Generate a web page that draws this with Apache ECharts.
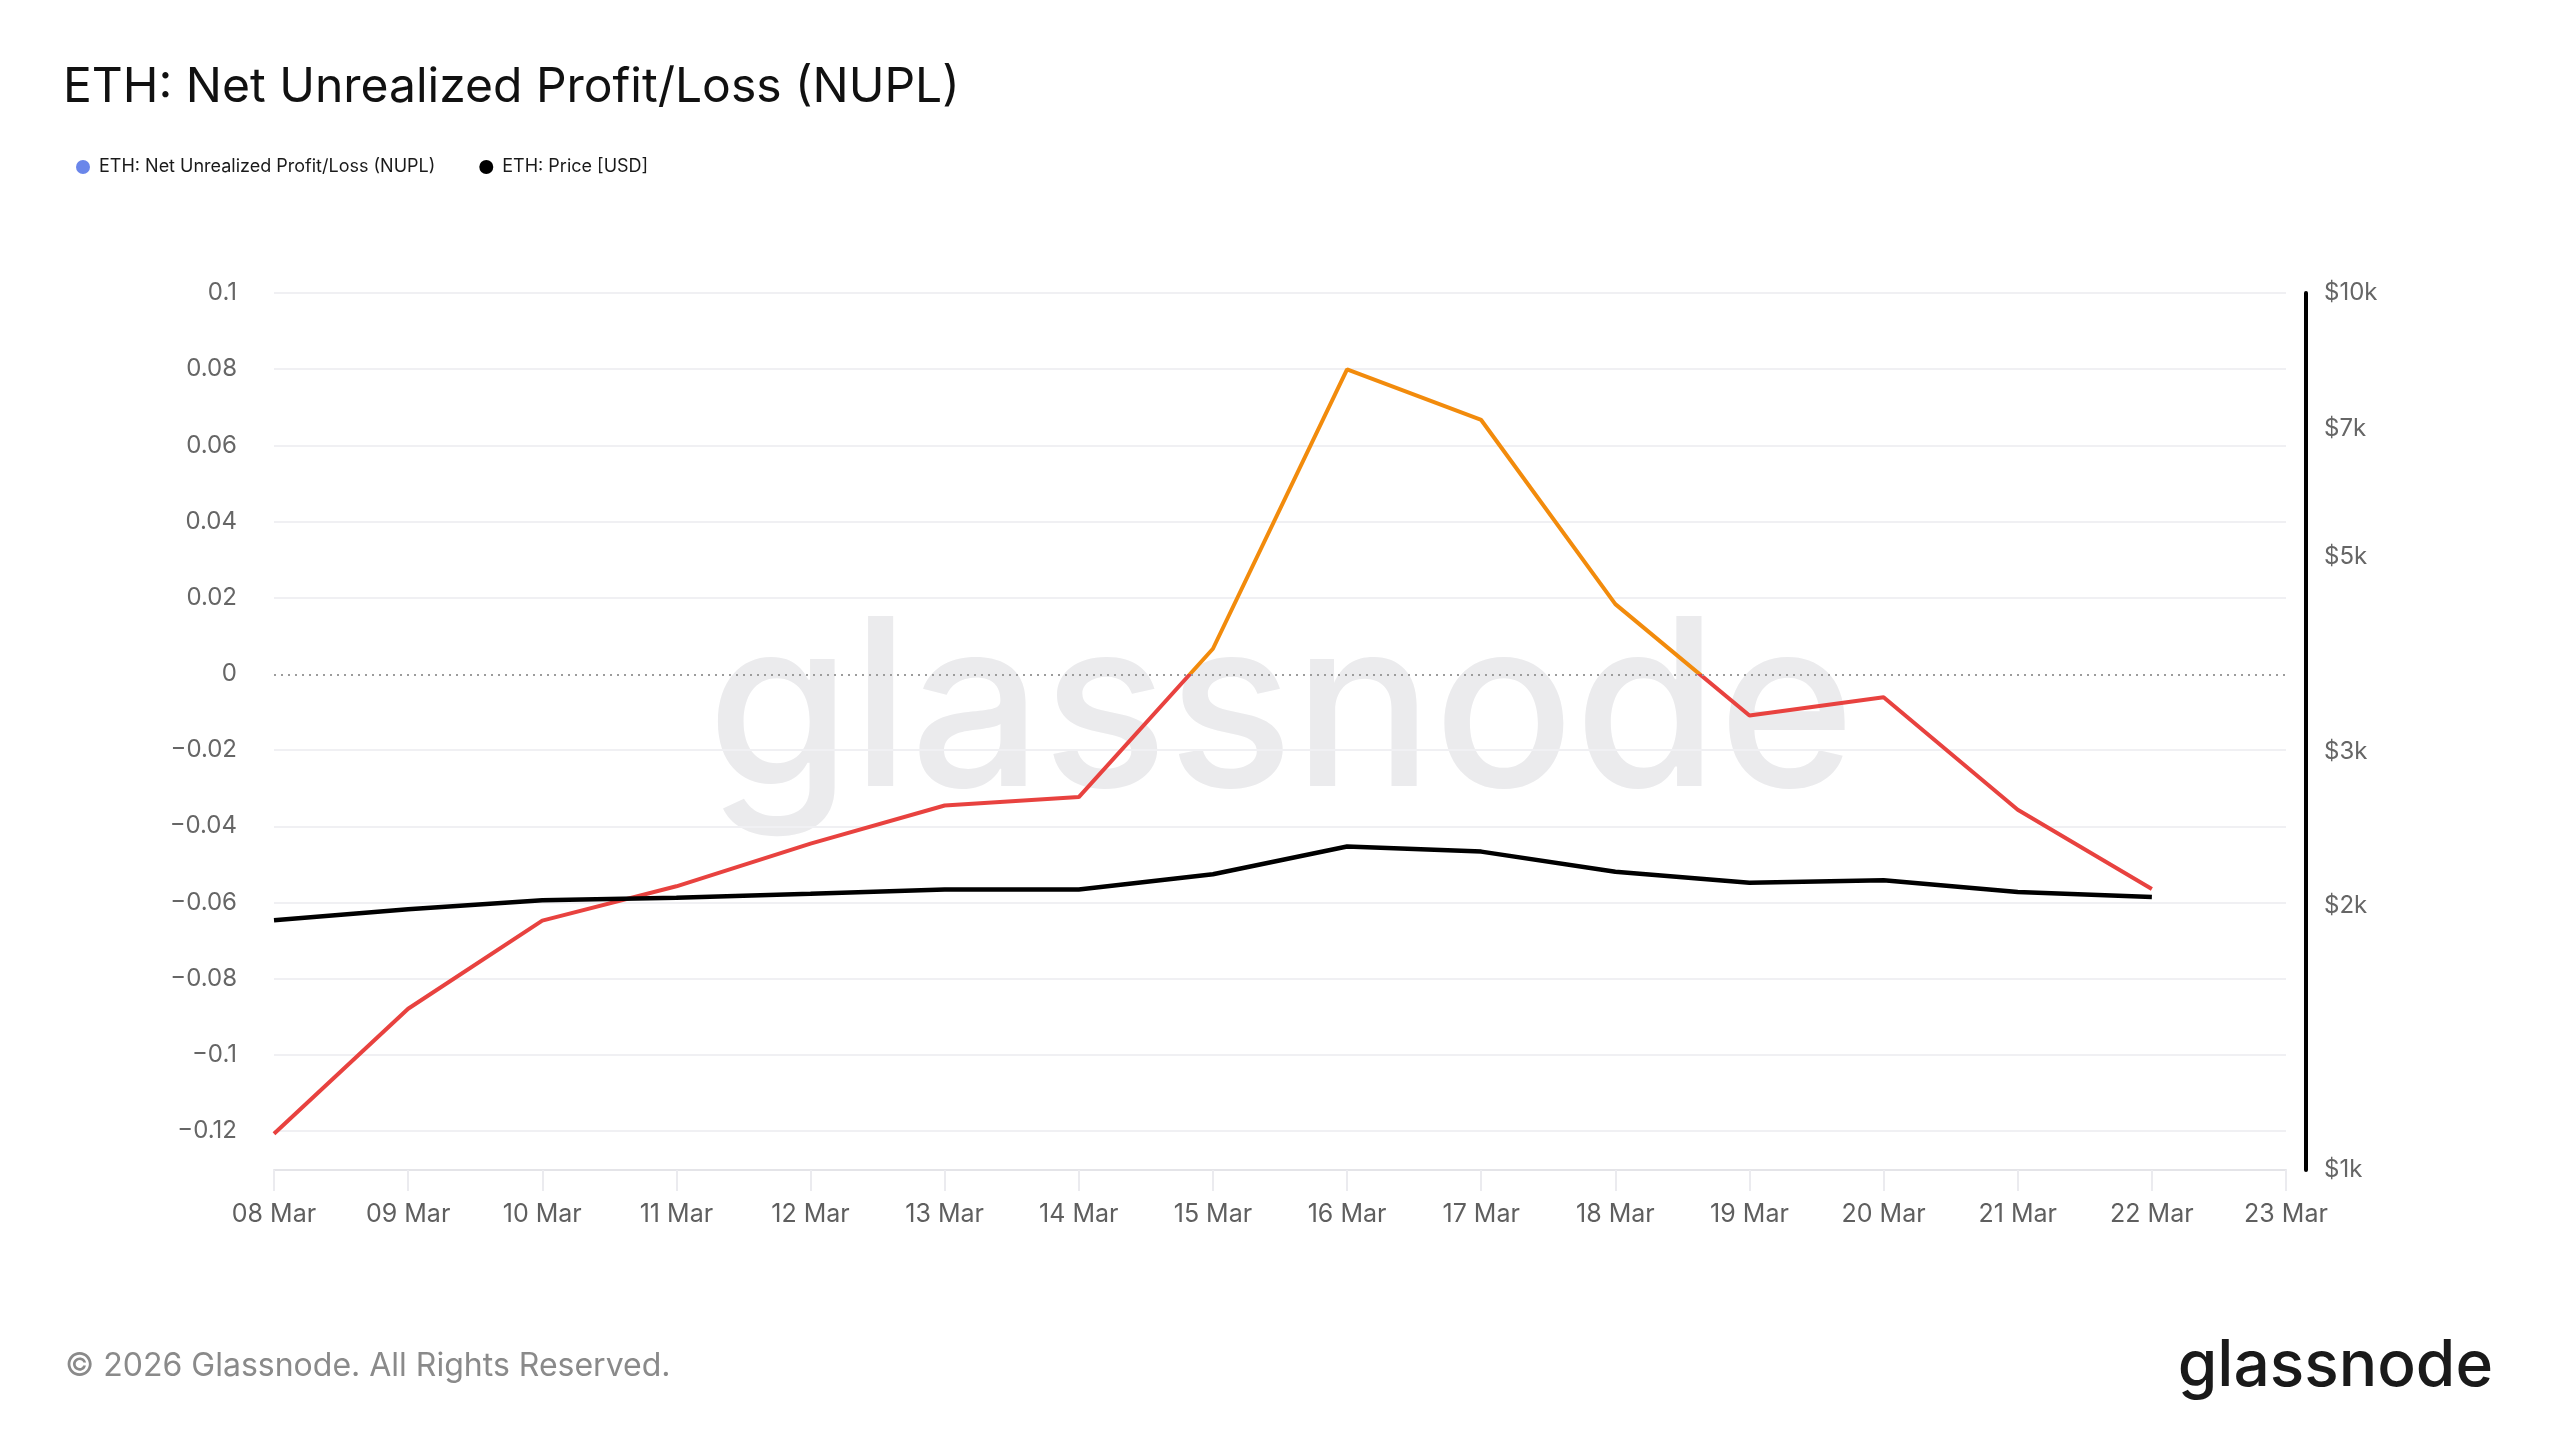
<!DOCTYPE html>
<html>
<head>
<meta charset="utf-8">
<script src="https://cdn.jsdelivr.net/npm/echarts@6/dist/echarts.min.js"></script>
<style>
html,body{margin:0;padding:0;background:#fff;}
#chart{width:2560px;height:1440px;}
</style>
</head>
<body>
<div id="chart"></div>
<script>
const categories = ['08 Mar','09 Mar','10 Mar','11 Mar','12 Mar','13 Mar','14 Mar','15 Mar','16 Mar','17 Mar','18 Mar','19 Mar','20 Mar','21 Mar','22 Mar','23 Mar'];
const nuplValues = [-0.1205, -0.0877, -0.0646, -0.0556, -0.0444, -0.0344, -0.0322, 0.0067, 0.0800, 0.0667, 0.0184, -0.0108, -0.0060, -0.0355, -0.0563];
const priceValues = [1926, 1983, 2030, 2044, 2065, 2089, 2089, 2174, 2338, 2307, 2188, 2126, 2140, 2075, 2048];
const nuplTicks = [-0.12, -0.1, -0.08, -0.06, -0.04, -0.02, 0, 0.02, 0.04, 0.06, 0.08, 0.1];
const priceTicks = [1000, 2000, 3000, 5000, 7000, 10000];
const nuplName = 'ETH: Net Unrealized Profit/Loss (NUPL)';
const priceName = 'ETH: Price [USD]';

const FONT = 'Inter, "Noto Sans", sans-serif';
const chart = echarts.init(document.getElementById('chart'), null, {renderer: 'canvas'});

function fmtNupl(v) {
  const r = Math.round(v * 100) / 100;
  if (r === 0) return '0';
  return (r < 0 ? '\u2212' : '') + String(Math.abs(r));
}

const option = {
  backgroundColor: '#ffffff',
  animation: false,
  textStyle: {fontFamily: FONT},
  title: {
    text: 'ETH: Net Unrealized Profit/Loss (NUPL)',
    left: 63,
    top: 64,
    padding: 0,
    textStyle: {fontFamily: FONT, fontSize: 48, fontWeight: 'normal', color: '#111111'}
  },
  legend: {
    left: 76,
    top: 158,
    padding: 0,
    itemWidth: 22,
    itemHeight: 14,
    itemGap: 44,
    textStyle: {fontFamily: FONT, fontSize: 18, color: '#1a1a1a'},
    data: [
      {name: nuplName, icon: 'circle', itemStyle: {color: '#6a86ea'}},
      {name: priceName, icon: 'circle', itemStyle: {color: '#000000'}}
    ]
  },
  visualMap: {
    show: false,
    type: 'piecewise',
    seriesIndex: 0,
    dimension: 1,
    pieces: [
      {gte: -1, lt: 0, color: '#e8423f'},
      {gte: 0, lte: 1, color: '#f28b0c'}
    ]
  },
  grid: [
    {left: 274, right: 274, top: 293, bottom: 270, containLabel: false},
    {left: 274, right: 274, top: 293, bottom: 309, containLabel: false}
  ],
  xAxis: [
    {
      type: 'category',
      gridIndex: 0,
      data: categories,
      boundaryGap: false,
      axisLine: {show: true, onZero: false, lineStyle: {color: '#e4e4e8', width: 2}},
      axisTick: {show: true, length: 21, lineStyle: {color: '#ebebef', width: 2}},
      axisLabel: {interval: 0, margin: 32, fontFamily: FONT, fontSize: 25, color: '#5f5f5f'},
      splitLine: {show: false}
    },
    {
      type: 'category',
      gridIndex: 1,
      data: categories,
      boundaryGap: false,
      show: false
    }
  ],
  yAxis: [
    {
      type: 'value',
      gridIndex: 0,
      min: -0.13,
      max: 0.1,
      axisLine: {show: false},
      axisTick: {show: false},
      axisLabel: {show: false},
      splitLine: {show: false}
    },
    {
      type: 'log',
      gridIndex: 0,
      logBase: 10,
      min: 1000,
      max: 10000,
      position: 'right',
      offset: 20,
      axisLine: {show: true, lineStyle: {color: '#000000', width: 4}},
      axisTick: {show: false},
      minorTick: {show: false},
      splitLine: {show: false},
      axisLabel: {
        customValues: priceTicks,
        margin: 18,
        fontFamily: FONT,
        fontSize: 24,
        color: '#666666',
        formatter: function (v) { return '$' + Math.round(v / 1000) + 'k'; }
      }
    },
    {
      type: 'value',
      gridIndex: 1,
      min: -0.12,
      max: 0.1,
      interval: 0.02,
      axisLine: {show: false},
      axisTick: {show: false},
      axisLabel: {margin: 37, fontFamily: FONT, fontSize: 24, color: '#666666', formatter: fmtNupl},
      splitLine: {
        show: true,
        lineStyle: {
          width: 2,
          color: nuplTicks.map(function (v) { return Math.abs(v) < 1e-9 ? 'rgba(0,0,0,0)' : '#f0f0f3'; })
        }
      }
    }
  ],
  graphic: [
    {
      type: 'text',
      z: -10,
      silent: true,
      x: 1281,
      y: 716,
      style: {
        text: 'glassnode',
        fontFamily: FONT,
        fontSize: 233,
        fontWeight: 500,
        fill: '#ebebed',
        align: 'center',
        verticalAlign: 'middle'
      }
    },
    {
      type: 'text',
      silent: true,
      x: 65,
      y: 1366,
      style: {
        text: '\u00a9 2026 Glassnode. All Rights Reserved.',
        fontFamily: FONT,
        fontSize: 32,
        fill: '#8a8a8a',
        align: 'left',
        verticalAlign: 'middle'
      }
    },
    {
      type: 'text',
      silent: true,
      x: 2493,
      y: 1367,
      style: {
        text: 'glassnode',
        fontFamily: FONT,
        fontSize: 64,
        fontWeight: 500,
        fill: '#1a1a1a',
        align: 'right',
        verticalAlign: 'middle'
      }
    }
  ],
  series: [
    {
      name: nuplName,
      type: 'line',
      xAxisIndex: 0,
      yAxisIndex: 0,
      data: nuplValues,
      showSymbol: false,
      symbol: 'none',
      itemStyle: {color: '#6a86ea'},
      lineStyle: {width: 4},
      z: 3,
      markLine: {
        silent: true,
        symbol: 'none',
        label: {show: false},
        lineStyle: {type: [2, 5], color: '#9c9c9c', width: 2},
        data: [{yAxis: 0}]
      }
    },
    {
      name: priceName,
      type: 'line',
      xAxisIndex: 0,
      yAxisIndex: 1,
      data: priceValues,
      showSymbol: false,
      symbol: 'none',
      itemStyle: {color: '#000000'},
      lineStyle: {width: 4.5, color: '#000000'},
      z: 4
    }
  ]
};
chart.setOption(option);
</script>
</body>
</html>
